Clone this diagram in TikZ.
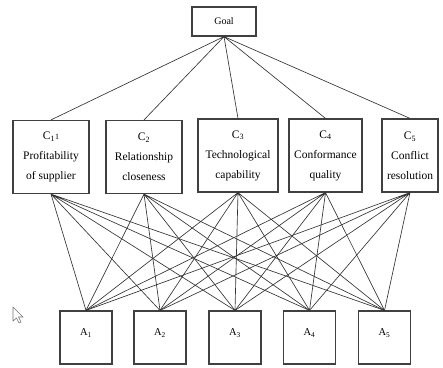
\documentclass[tikz,border=0pt]{standalone}
\usepackage{fontspec}
\setmainfont{Liberation Serif}

\begin{document}
\begin{tikzpicture}[x=1pt,y=-1pt,
	box/.style={draw=black!75,line width=1.2pt,inner sep=0pt,align=center},
	crit/.style={box,minimum height=73pt,font=\fontsize{11.5}{20}\selectfont},
	alt/.style={box,minimum width=52pt,minimum height=53pt,text height=8pt,text depth=12pt,font=\fontsize{10.5}{12}\selectfont},
	link/.style={draw=black!80,line width=0.65pt}]
	\useasboundingbox (0,0) rectangle (443,367);
	\node[box,minimum width=64pt,minimum height=29pt,font=\fontsize{10}{12}\selectfont] (goal) at (224,21.5) {Goal};
	\node[crit,minimum width=76pt] (c1) at (51,157) {C\textsubscript{1}{\footnotesize 1}\\Profitability\\of supplier};
	\node[crit,minimum width=76pt] (c2) at (144,157) {C\textsubscript{2}\\Relationship\\closeness};
	\node[crit,minimum width=80pt] (c3) at (238,155.5) {C\textsubscript{3}\\Technological\\capability};
	\node[crit,minimum width=73pt] (c4) at (325.5,155.5) {C\textsubscript{4}\\Conformance\\quality};
	\node[crit,minimum width=56pt] (c5) at (410,155.5) {C\textsubscript{5}\\Conflict\\resolution};
	\node[alt] (a1) at (86,337.5) {A\textsubscript{1}};
	\node[alt] (a2) at (160,337.5) {A\textsubscript{2}};
	\node[alt] (a3) at (235,337.5) {A\textsubscript{3}};
	\node[alt] (a4) at (309.5,337.5) {A\textsubscript{4}};
	\node[alt] (a5) at (384.5,337.5) {A\textsubscript{5}};
	% goal to criteria
	\draw[link] (goal.south) -- (c1.north) (goal.south) -- (c2.north) (goal.south) -- (c3.north)
		(goal.south) -- (c4.north) (goal.south) -- (c5.north);
	% criteria to alternatives
	\draw[link] (c1.south) -- (a1.north) (c1.south) -- (a2.north) (c1.south) -- (a3.north) (c1.south) -- (a4.north) (c1.south) -- (a5.north);
	\draw[link] (c2.south) -- (a1.north) (c2.south) -- (a2.north) (c2.south) -- (a3.north) (c2.south) -- (a4.north) (c2.south) -- (a5.north);
	\draw[link] (c3.south) -- (a1.north) (c3.south) -- (a2.north) (c3.south) -- (a3.north) (c3.south) -- (a4.north) (c3.south) -- (a5.north);
	\draw[link] (c4.south) -- (a1.north) (c4.south) -- (a2.north) (c4.south) -- (a3.north) (c4.south) -- (a4.north) (c4.south) -- (a5.north);
	\draw[link] (c5.south) -- (a1.north) (c5.south) -- (a2.north) (c5.south) -- (a3.north) (c5.south) -- (a4.north) (c5.south) -- (a5.north);
	% mouse pointer
	\draw[black!55,fill=white,line width=0.6pt,line join=round] (13,307) -- (13,321) -- (16.5,318) -- (19,323) -- (21,322) -- (18.5,317) -- (23,317) -- cycle;
\end{tikzpicture}
\end{document}
